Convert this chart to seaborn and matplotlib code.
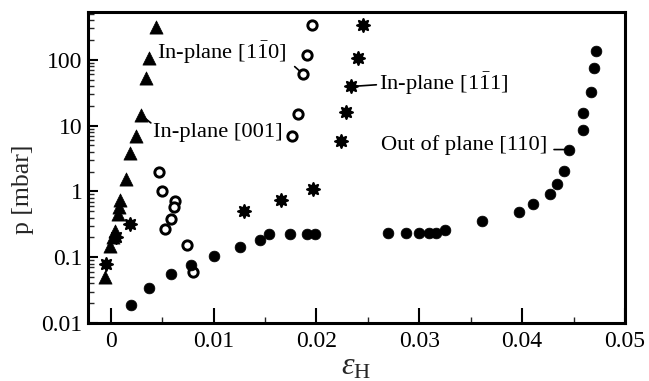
import matplotlib
matplotlib.use("Agg")
import matplotlib.pyplot as plt
import matplotlib.ticker as mticker
import seaborn as sns
import pandas as pd

# In-plane [001] (filled triangles)
tri_x = [0.00437, 0.00369, 0.00346, 0.00291, 0.00243, 0.0019, 0.00151, 0.00093,
         0.00085, 0.00075, 0.00042, 0.00025, -0.00007, -0.00055]
tri_p = [320, 106, 53, 14.7, 7.0, 3.9, 1.52, 0.74, 0.57, 0.45, 0.25, 0.20, 0.148, 0.05]

# In-plane [1-10] (open circles)
oc_x = [0.00469, 0.00498, 0.00627, 0.00615, 0.00589, 0.0053, 0.00744, 0.00802,
        0.01767, 0.01821, 0.0187, 0.01909, 0.01961]
oc_p = [1.96, 1.03, 0.71, 0.57, 0.385, 0.265, 0.154, 0.059, 6.9, 15.2, 61, 120, 340]

# In-plane [1-11] (stars)
st_x = [-0.00046, 0.0005, 0.00184, 0.01294, 0.0166, 0.01967, 0.02243, 0.02284,
        0.0234, 0.02404, 0.02452]
st_p = [0.078, 0.20, 0.316, 0.50, 0.74, 1.07, 5.8, 15.9, 39.4, 106, 335]

# Out of plane [110] (filled circles)
fc_x = [0.00194, 0.00369, 0.00589, 0.00786, 0.01003, 0.01255, 0.01456, 0.0154,
        0.01748, 0.01909, 0.0199, 0.02695, 0.02874, 0.02996, 0.03093, 0.03165,
        0.03252, 0.03608, 0.03974, 0.04103, 0.0427, 0.0434, 0.04411, 0.04459,
        0.04588, 0.04595, 0.0467, 0.04702, 0.04718]
fc_p = [0.0187, 0.034, 0.0547, 0.076, 0.105, 0.143, 0.185, 0.223, 0.223, 0.223,
        0.223, 0.231, 0.231, 0.231, 0.231, 0.236, 0.26, 0.355, 0.486, 0.64, 0.92,
        1.31, 2.03, 4.33, 8.7, 15.6, 32.4, 75, 138]

x_ticks = [0, 0.01, 0.02, 0.03, 0.04, 0.05]
x_tick_labels = ["0", "0.01", "0.02", "0.03", "0.04", "0.05"]
y_ticks = [0.01, 0.1, 1, 10, 100]
y_tick_labels = ["0.01", "0.1", "1", "10", "100"]

sns.set_style("ticks")
plt.rcParams["font.family"] = ["Liberation Serif", "DejaVu Serif"]
plt.rcParams["mathtext.fontset"] = "custom"
plt.rcParams["mathtext.rm"] = "Liberation Serif"
plt.rcParams["mathtext.it"] = "Liberation Serif:italic"
plt.rcParams["mathtext.bf"] = "Liberation Serif:bold"

fig = plt.figure(figsize=(6.49, 3.81), dpi=100)
ax = fig.add_axes([88 / 649, 1 - 323 / 381, (625 - 88) / 649, (323 - 12) / 381])

sns.scatterplot(x=tri_x, y=tri_p, ax=ax, marker="^", s=90, color="black",
                edgecolor="black", linewidth=0.5, zorder=3)
sns.scatterplot(x=oc_x, y=oc_p, ax=ax, marker="o", s=45, facecolor="white",
                edgecolor="black", linewidth=2.1, zorder=3)
sns.scatterplot(x=st_x, y=st_p, ax=ax, marker=(8, 1, 0), s=85, color="black",
                edgecolor="black", linewidth=1.6, zorder=3)
sns.scatterplot(x=fc_x, y=fc_p, ax=ax, marker="o", s=60, color="black",
                edgecolor="black", linewidth=0.5, zorder=3)

ax.set_yscale("log")
ax.set_xlim(-0.0022, 0.05)
ax.set_ylim(0.01, 534)

ax.set_xticks(x_ticks)
ax.set_xticklabels(x_tick_labels)
ax.xaxis.set_minor_locator(mticker.MultipleLocator(0.005))
ax.set_yticks(y_ticks)
ax.set_yticklabels(y_tick_labels)
ax.yaxis.set_minor_locator(mticker.LogLocator(base=10, subs=range(2, 10), numticks=20))
ax.yaxis.set_minor_formatter(mticker.NullFormatter())

ax.tick_params(axis="both", which="major", direction="in", labelsize=17,
               width=1.5, color="black", labelcolor="black")
ax.tick_params(axis="x", which="major", length=11, pad=6)
ax.tick_params(axis="y", which="major", length=7, pad=4)
ax.tick_params(axis="both", which="minor", direction="in", length=4, width=1.0)

for sp in ax.spines.values():
    sp.set_linewidth(2.2)
    sp.set_color("black")

ax.set_xlabel(r"$\varepsilon_\mathrm{H}$", fontsize=23, labelpad=0)
ax.set_ylabel("p [mbar]", fontsize=18.5)
ax.yaxis.set_label_coords(-0.1, 0.43)

fs = 16.2
ax.annotate(r"In-plane [1$\bar{\mathrm{1}}$0]", xy=(0.0187, 61), xytext=(0.00447, 128),
            ha="left", va="center", fontsize=fs, color="black")
ax.annotate("", xy=(0.0187, 61), xytext=(0.01789, 79),
            arrowprops=dict(arrowstyle="-", color="black", lw=1.2, shrinkA=0, shrinkB=3))
ax.annotate("In-plane [001]", xy=(0.00291, 14.7), xytext=(0.00408, 7.9),
            ha="left", va="center", fontsize=fs, color="black")
ax.annotate("", xy=(0.00291, 14.7), xytext=(0.00391, 11.0),
            arrowprops=dict(arrowstyle="-", color="black", lw=1.2, shrinkA=0, shrinkB=3))
ax.annotate(r"In-plane [1$\bar{\mathrm{1}}$1]", xy=(0.0234, 39.4), xytext=(0.02605, 42.8),
            ha="left", va="center", fontsize=fs, color="black")
ax.annotate("", xy=(0.0234, 39.4), xytext=(0.02583, 41.8),
            arrowprops=dict(arrowstyle="-", color="black", lw=1.2, shrinkA=0, shrinkB=0))
ax.annotate("Out of plane [110]", xy=(0.04459, 4.33), xytext=(0.02631, 5.15),
            ha="left", va="center", fontsize=fs, color="black")
ax.annotate("", xy=(0.04459, 4.33), xytext=(0.0431, 4.33),
            arrowprops=dict(arrowstyle="-", color="black", lw=1.2, shrinkA=0, shrinkB=0))

fig.savefig("out.png", dpi=100)
